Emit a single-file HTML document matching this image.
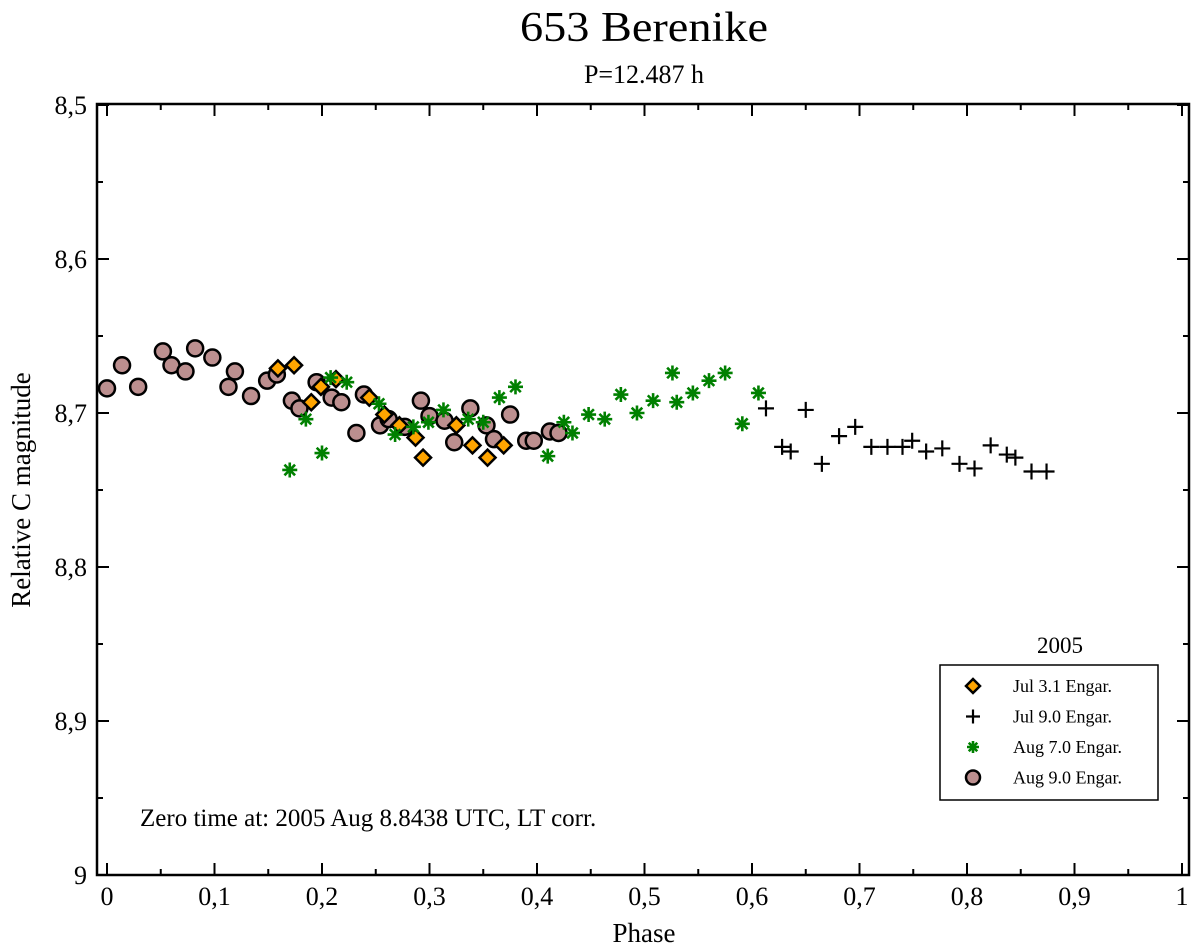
<!DOCTYPE html>
<html><head><meta charset="utf-8"><style>
html,body{margin:0;padding:0;background:#fff}
svg{display:block;font-family:"Liberation Serif",serif}
</style></head><body>
<svg id="chart" width="1200" height="948" viewBox="0 0 1200 948">
<text x="644" y="41" font-size="42" text-anchor="middle" textLength="248" lengthAdjust="spacingAndGlyphs">653 Berenike</text>
<text x="644" y="83" font-size="26" text-anchor="middle">P=12.487 h</text>
<text transform="translate(30,490) rotate(-90)" font-size="27" text-anchor="middle">Relative C magnitude</text>
<text x="644" y="942" font-size="27" text-anchor="middle">Phase</text>
<text x="140" y="826" font-size="25">Zero time at: 2005 Aug 8.8438 UTC, LT corr.</text>
<g id="axes"></g>
<g id="marks"></g>
<g>
<text x="1060" y="653" font-size="23" text-anchor="middle">2005</text>
<rect x="940" y="665" width="218" height="135" fill="#fff" stroke="#000" stroke-width="1.5"/>
<g id="legend-items"></g>
</g>
</svg>
<script>
const xTicks=[0,0.1,0.2,0.3,0.4,0.5,0.6,0.7,0.8,0.9,1];
const xTickLabels=["0","0,1","0,2","0,3","0,4","0,5","0,6","0,7","0,8","0,9","1"];
const yTicks=[8.5,8.6,8.7,8.8,8.9,9];
const yTickLabels=["8,5","8,6","8,7","8,8","8,9","9"];
const seriesNames=["Jul 3.1 Engar.","Jul 9.0 Engar.","Aug 7.0 Engar.","Aug 9.0 Engar."];
const jul3Phase=[0.159,0.174,0.190,0.199,0.213,0.244,0.258,0.272,0.287,0.294,0.325,0.340,0.354,0.369];
const jul3Mag=[8.671,8.669,8.693,8.683,8.678,8.690,8.701,8.708,8.716,8.729,8.708,8.721,8.729,8.721];
const jul9Phase=[0.613,0.628,0.636,0.650,0.665,0.681,0.696,0.711,0.726,0.740,0.749,0.762,0.777,0.793,0.807,0.822,0.837,0.845,0.860,0.874];
const jul9Mag=[8.697,8.722,8.725,8.698,8.733,8.715,8.709,8.722,8.722,8.722,8.718,8.725,8.723,8.733,8.736,8.721,8.727,8.729,8.738,8.738];
const aug7Phase=[0.170,0.185,0.200,0.208,0.223,0.253,0.268,0.285,0.299,0.313,0.336,0.350,0.365,0.380,0.410,0.425,0.433,0.448,0.463,0.478,0.493,0.508,0.526,0.530,0.545,0.560,0.575,0.591,0.606];
const aug7Mag=[8.737,8.704,8.726,8.677,8.680,8.694,8.714,8.709,8.706,8.698,8.704,8.706,8.690,8.683,8.728,8.706,8.713,8.701,8.704,8.688,8.700,8.692,8.674,8.693,8.687,8.679,8.674,8.707,8.687];
const aug9Phase=[0.000,0.014,0.029,0.052,0.060,0.073,0.082,0.098,0.113,0.119,0.134,0.149,0.158,0.172,0.179,0.195,0.209,0.218,0.232,0.239,0.254,0.262,0.277,0.292,0.300,0.314,0.323,0.338,0.353,0.360,0.375,0.390,0.397,0.412,0.420];
const aug9Mag=[8.684,8.669,8.683,8.660,8.669,8.673,8.658,8.664,8.683,8.673,8.689,8.679,8.675,8.692,8.697,8.680,8.690,8.693,8.713,8.688,8.708,8.704,8.709,8.692,8.702,8.705,8.719,8.697,8.708,8.717,8.701,8.718,8.718,8.712,8.713];

const NS="http://www.w3.org/2000/svg";
const L=97,R=1189,T=104,B=875;
function xS(v){return 107+v*1075;}
function yS(v){return 105+(v-8.5)*1540;}
function mk(tag,attrs,parent){const e=document.createElementNS(NS,tag);for(const k in attrs)e.setAttribute(k,attrs[k]);parent.appendChild(e);return e;}
const axes=document.getElementById('axes');
const frame=mk('rect',{x:L,y:T,width:R-L,height:B-T,fill:'none',stroke:'#000','stroke-width':2.5},axes);


xTicks.forEach((v,i)=>{
  const x=xS(v);
  const t1=mk('line',{x1:x,x2:x,y1:B,y2:B-12,stroke:'#000','stroke-width':2},axes);
  
  
  const t2=mk('line',{x1:x,x2:x,y1:T,y2:T+12,stroke:'#000','stroke-width':2},axes);
  
  
  if(i<xTicks.length-1){
    const xm=xS(v+0.05);
    const m1=mk('line',{x1:xm,x2:xm,y1:B,y2:B-6,stroke:'#000','stroke-width':2},axes);
    
    
    const m2=mk('line',{x1:xm,x2:xm,y1:T,y2:T+6,stroke:'#000','stroke-width':2},axes);
    
    
  }
  const lb=mk('text',{x:x,y:B+30,'font-size':26,'text-anchor':'middle'},axes);
  lb.textContent=xTickLabels[i];
  
  
});
yTicks.forEach((v,i)=>{
  const y=yS(v);
  const t1=mk('line',{x1:L,x2:L+12,y1:y,y2:y,stroke:'#000','stroke-width':2},axes);
  
  
  const t2=mk('line',{x1:R,x2:R-12,y1:y,y2:y,stroke:'#000','stroke-width':2},axes);
  
  
  if(i<yTicks.length-1){
    const ym=yS(v+0.05);
    const m1=mk('line',{x1:L,x2:L+6,y1:ym,y2:ym,stroke:'#000','stroke-width':2},axes);
    
    
    const m2=mk('line',{x1:R,x2:R-6,y1:ym,y2:ym,stroke:'#000','stroke-width':2},axes);
    
    
  }
  const lb=mk('text',{x:L-10,y:y+9,'font-size':26,'text-anchor':'end'},axes);
  lb.textContent=yTickLabels[i];
  
  
});
function diamond(x,y,p,s){return mk('polygon',{points:`${x},${y-s} ${x+s},${y} ${x},${y+s} ${x-s},${y}`,fill:'#ffa500',stroke:'#000','stroke-width':2.5},p);}
function plus(x,y,p,s){return mk('path',{d:`M${x-s},${y}H${x+s}M${x},${y-s}V${y+s}`,stroke:'#000','stroke-width':2.2,fill:'none'},p);}
function star(x,y,p,s){const d=s*0.707;return mk('path',{d:`M${x-s},${y}H${x+s}M${x},${y-s}V${y+s}M${x-d},${y-d}L${x+d},${y+d}M${x-d},${y+d}L${x+d},${y-d}`,stroke:'#008000','stroke-width':2.6,fill:'none'},p);}
function circ(x,y,p,r){return mk('circle',{cx:x,cy:y,r:r,fill:'#bc8f8f',stroke:'#000','stroke-width':2.5},p);}
const marks=document.getElementById('marks');
aug9Phase.forEach((v,i)=>{const e=circ(xS(v),yS(aug9Mag[i]),marks,8);
  
  });
jul3Phase.forEach((v,i)=>{const e=diamond(xS(v),yS(jul3Mag[i]),marks,8);
  
  });
aug7Phase.forEach((v,i)=>{const e=star(xS(v),yS(aug7Mag[i]),marks,7.5);
  
  });
jul9Phase.forEach((v,i)=>{const e=plus(xS(v),yS(jul9Mag[i]),marks,8);
  
  });
const li=document.getElementById('legend-items');
const makers=[(x,y)=>diamond(x,y,li,7),(x,y)=>plus(x,y,li,7),(x,y)=>star(x,y,li,6),(x,y)=>circ(x,y,li,7)];
seriesNames.forEach((n,i)=>{
  const y=686+i*30.5;
  const m=makers[i](973,y);
  
  
  const t=mk('text',{x:1013,y:y+6,'font-size':18},li);
  t.textContent=n;
  
  
});
</script>
</body></html>
